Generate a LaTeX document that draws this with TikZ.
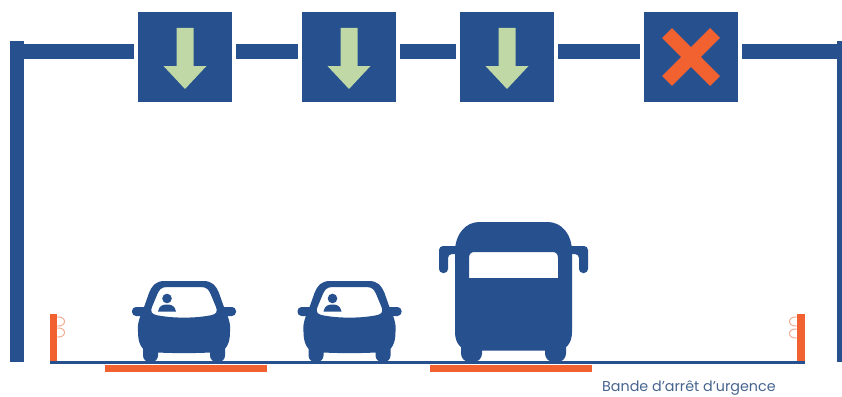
\documentclass[tikz,border=0pt]{standalone}
\usepackage{fontspec}
\setmainfont{Poppins}
\definecolor{navy}{HTML}{26508E}
\definecolor{flame}{HTML}{F26231}
\definecolor{leaf}{HTML}{BFD8A5}
\definecolor{slate}{HTML}{47648F}
\definecolor{loopc}{HTML}{F0A68A}
\tikzset{
  signbox/.style={fill=navy,minimum width=94pt,minimum height=90pt,inner sep=0pt,outer sep=4pt},
  beam/.style={navy,line width=15pt},
  postline/.style={navy,line width=13.5pt},
  sidepost/.style={flame,line width=7.5pt},
  roadline/.style={navy,line width=2.8pt},
  lanebar/.style={flame,line width=7pt},
  looper/.style={loopc,line width=.9pt},
  arrowsign/.pic={
    \fill[leaf] (-8.5,-29) -- (8.5,-29) -- (8.5,9) -- (21.5,9) -- (0,32) -- (-21.5,9) -- (-8.5,9) -- cycle;
  },
  crosssign/.pic={
    \draw[flame,line width=14pt] (-24,-24) -- (24,24) (-24,24) -- (24,-24);
  },
  carshape/.pic={
    % mirrors
    \fill[navy,rounded corners=4pt] (-52,307) rectangle (-36,316);
    \fill[navy,rounded corners=4pt] (52,307) rectangle (36,316);
    % wheels
    \fill[navy,rounded corners=6.5pt] (-41,342) rectangle (-26,362);
    \fill[navy,rounded corners=6.5pt] (26,342) rectangle (41,362);
    % body with window
    \fill[navy,even odd rule]
      (-19,281) -- (19,281)
      .. controls (29,281) and (32,286) .. (35,293)
      -- (41,310)
      .. controls (45,318) and (47,326) .. (46,332)
      .. controls (46,342) and (43,351) .. (34,352)
      .. controls (15,353.5) and (-15,353.5) .. (-34,352)
      .. controls (-43,351) and (-46,342) .. (-46,332)
      .. controls (-47,326) and (-45,318) .. (-41,310)
      -- (-35,293)
      .. controls (-32,286) and (-29,281) .. (-19,281) -- cycle
      (-17,287) -- (17,287)
      .. controls (23,287) and (25,290) .. (27,295)
      -- (32,307)
      .. controls (34,311.5) and (32,314) .. (28,315)
      .. controls (12,318.5) and (-12,318.5) .. (-28,315)
      .. controls (-32,314) and (-34,311.5) .. (-32,307)
      -- (-27,295)
      .. controls (-25,290) and (-23,287) .. (-17,287) -- cycle;
    % driver
    \fill[navy] (-17,298.5) circle (4.8);
    \fill[navy] (-26,311.5) .. controls (-25,305) and (-20,304.5) .. (-17,304.5)
      .. controls (-14,304.5) and (-9,305) .. (-8,311.5) -- cycle;
  },
  busshape/.pic={
    % wheels
    \fill[navy,rounded corners=8.5pt] (-52.5,338) rectangle (-31.5,362);
    \fill[navy,rounded corners=8.5pt] (31.5,338) rectangle (52.5,362);
    % mirrors
    \fill[navy,rounded corners=4pt] (-54,246) -- (-74.5,246) -- (-74.5,273) -- (-65.5,273) -- (-65.5,254) -- (-54,254) -- cycle;
    \fill[navy,rounded corners=4pt] (54,246) -- (74.5,246) -- (74.5,273) -- (65.5,273) -- (65.5,254) -- (54,254) -- cycle;
    % body with window
    \fill[navy,even odd rule]
      (-34,222) -- (34,222)
      .. controls (48,222) and (58.5,234) .. (58.5,252)
      -- (58.5,332)
      .. controls (58.5,344) and (52,350.5) .. (42,350.5)
      -- (-42,350.5)
      .. controls (-52,350.5) and (-58.5,344) .. (-58.5,332)
      -- (-58.5,252)
      .. controls (-58.5,234) and (-48,222) .. (-34,222) -- cycle
      (-39,252) -- (39,252)
      .. controls (42.5,252) and (44.5,254) .. (44.5,258)
      -- (44.5,278) -- (-44.5,278) -- (-44.5,258)
      .. controls (-44.5,254) and (-42.5,252) .. (-39,252) -- cycle;
  }
}
\begin{document}
\begin{tikzpicture}[x=1pt,y=-1pt]
\useasboundingbox (0,0) rectangle (842,396);
% gantry
\coordinate (lefttop) at (16.75,41);
\coordinate (leftfoot) at (16.75,362);
\coordinate (righttop) at (843.5,41);
\coordinate (rightfoot) at (843.5,362);
\coordinate (beamL) at (16.75,51.5);
\coordinate (beamR) at (843,51.5);
\node[signbox] (s1) at (185,57) {};
\node[signbox] (s2) at (349,57) {};
\node[signbox] (s3) at (507,57) {};
\node[signbox] (s4) at (691,57) {};
\draw[postline] (lefttop) -- (leftfoot);
\draw[postline] (righttop) -- (rightfoot);
\draw[beam] (beamL) -- (s1.west |- beamL);
\draw[beam] (s1.east |- beamL) -- (s2.west |- beamL);
\draw[beam] (s2.east |- beamL) -- (s3.west |- beamL);
\draw[beam] (s3.east |- beamL) -- (s4.west |- beamL);
\draw[beam] (s4.east |- beamL) -- (beamR);
\pic at (s1.center) {arrowsign};
\pic at (s2.center) {arrowsign};
\pic at (s3.center) {arrowsign};
\pic at (s4.center) {crosssign};
% road
\coordinate (roadL) at (50,362.8);
\coordinate (roadR) at (805,362.8);
\coordinate (bar1a) at (105,368.5);
\coordinate (bar1b) at (267,368.5);
\coordinate (bar2a) at (430,368.5);
\coordinate (bar2b) at (592,368.5);
\coordinate (sideLt) at (53.7,314);
\coordinate (sideLb) at (53.7,362);
\coordinate (sideRt) at (801,314);
\coordinate (sideRb) at (801,362);
\draw[looper] (57,317) .. controls (67,316) and (67,327) .. (57,326);
\draw[looper] (57,328) .. controls (67,327) and (67,338) .. (57,337);
\draw[looper] (797,317) .. controls (787,316) and (787,327) .. (797,326);
\draw[looper] (797,329) .. controls (787,328) and (787,339) .. (797,338);
\draw[sidepost] (sideLt) -- (sideLb);
\draw[sidepost] (sideRt) -- (sideRb);
\draw[roadline] (roadL) -- (roadR);
\draw[lanebar] (bar1a) -- (bar1b);
\draw[lanebar] (bar2a) -- (bar2b);
% vehicles
\pic at (184,0) {carshape};
\pic at (349.5,0) {carshape};
\pic at (513.5,0) {busshape};
% label
\node[anchor=base west,inner sep=0pt,text=slate,font=\fontsize{14.3pt}{16pt}\selectfont] (lbl) at (602,391.5) {Bande d’arrêt d’urgence};
\end{tikzpicture}
\end{document}
